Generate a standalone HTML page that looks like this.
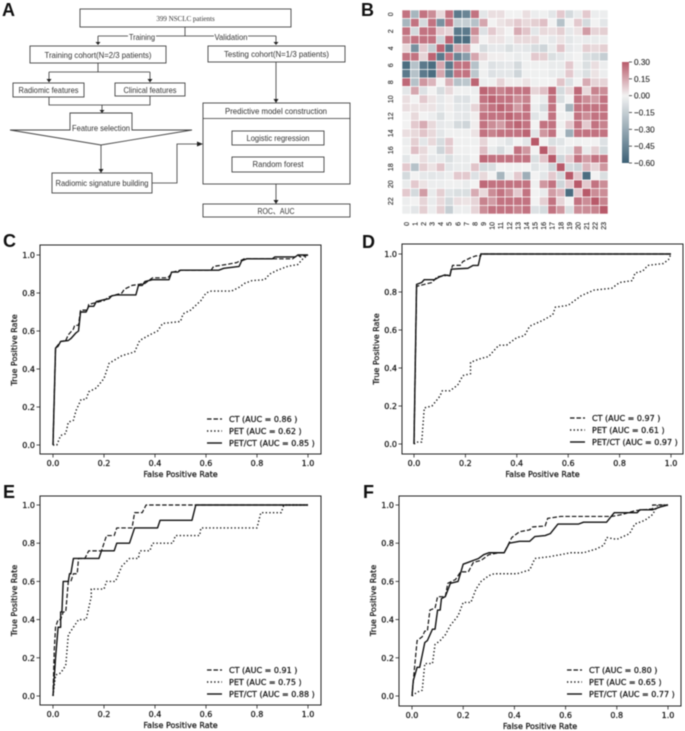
<!DOCTYPE html>
<html lang="en">
<head>
<meta charset="utf-8">
<title>Radiomics figure</title>
<style>
html,body{margin:0;padding:0;background:#fff;width:685px;height:731px;overflow:hidden}
svg{display:block;filter:blur(0.45px)}
text{fill:#222}
.mpl{font-family:"DejaVu Sans","Liberation Sans",sans-serif;font-size:8px;stroke:#111;stroke-width:.22;fill:#111}
.flow{font-family:"Liberation Sans",sans-serif;font-size:8.4px;text-anchor:middle;fill:#333}
.heat{font-family:"Liberation Sans",sans-serif;font-size:7px;fill:#222;stroke:#222;stroke-width:.1}
.letter{font-family:"Liberation Sans",sans-serif;font-size:18px;font-weight:bold;fill:#111}
.box{fill:#fff;stroke:#444;stroke-width:.9}
.conn{fill:none;stroke:#333;stroke-width:.8}
.head{fill:#222;stroke:none}
</style>
</head>
<body>
<svg id="figure" xmlns="http://www.w3.org/2000/svg" width="685" height="731" viewBox="0 0 685 731">
<defs>
<linearGradient id="cbar" x1="0" y1="0" x2="0" y2="1">
<stop offset="0" stop-color="#b85a6a"/>
<stop offset="0.3333" stop-color="#f2f2f2"/>
<stop offset="1" stop-color="#3d6176"/>
</linearGradient>
</defs>
<rect x="0" y="0" width="685" height="731" fill="#fff"/>
<text class="letter" x="2" y="16">A</text>
<text class="letter" x="361" y="16">B</text>
<text class="letter" x="3" y="247">C</text>
<text class="letter" x="362" y="248">D</text>
<text class="letter" x="3" y="498">E</text>
<text class="letter" x="363" y="498">F</text>

<g id="flowchart">
<path class="conn" d="M185 27V36M98 36H276M98 36V43M276 36V43"/>
<path class="conn" d="M98 63V72M49 72H150M49 72V80M150 72V80"/>
<path class="conn" d="M49 97V105H150V96M102 105V111"/>
<path class="conn" d="M101 145V170"/>
<path class="conn" d="M152 183H177V144H200"/>
<path class="conn" d="M276 62V100"/>
<path class="conn" d="M276 184V201"/>
<path class="head" d="M95.5 42H100.5L98 45ZM273.5 42H278.5L276 45ZM46.5 79H51.5L49 82.500ZM147.500 79H152.500L150 82.500ZM99.500 110H104.500L102 113ZM98.500 169H103.500L101 173ZM197 141.500V146.500L203 144ZM273.500 99H278.500L276 103ZM273.500 200H278.500L276 204Z"/>

<rect class="box" x="80" y="9" width="211" height="18"/>
<text x="185.500" y="21" text-anchor="middle" style="font-family:'Liberation Serif',serif;font-size:7px;fill:#333">399 NSCLC patients</text>
<rect x="128" y="31" width="28" height="10" fill="#fff"/>
<text class="flow" x="142" y="40" textLength="26" lengthAdjust="spacingAndGlyphs">Training</text>
<rect x="214" y="31" width="34" height="10" fill="#fff"/>
<text class="flow" x="231" y="40" textLength="33" lengthAdjust="spacingAndGlyphs">Validation</text>

<rect class="box" x="30" y="46" width="136" height="17"/>
<text class="flow" x="98" y="58" textLength="107" lengthAdjust="spacingAndGlyphs">Training cohort(N=2/3 patients)</text>
<rect class="box" x="208" y="46" width="137" height="16"/>
<text class="flow" x="276.500" y="57" textLength="105" lengthAdjust="spacingAndGlyphs">Testing cohort(N=1/3 patients)</text>
<rect class="box" x="13" y="83" width="71" height="14"/>
<text class="flow" x="48.500" y="93" textLength="60" lengthAdjust="spacingAndGlyphs">Radiomic features</text>
<rect class="box" x="115" y="83" width="70" height="13"/>
<text class="flow" x="150" y="93" textLength="53" lengthAdjust="spacingAndGlyphs">Clinical features</text>
<path class="box" d="M70 130V113H132V130H192L101 145L10 130Z"/>
<text class="flow" x="101" y="131" textLength="58" lengthAdjust="spacingAndGlyphs">Feature selection</text>
<rect class="box" x="52" y="173" width="100" height="20"/>
<text class="flow" x="102" y="186" textLength="93" lengthAdjust="spacingAndGlyphs">Radiomic signature building</text>
<rect class="box" x="203" y="103" width="147" height="81"/>
<path class="conn" d="M203 118.500H350"/>
<text class="flow" x="276" y="114" textLength="102" lengthAdjust="spacingAndGlyphs">Predictive model construction</text>
<rect class="box" x="232" y="131" width="92" height="14"/>
<text class="flow" x="278" y="141" textLength="63" lengthAdjust="spacingAndGlyphs">Logistic regression</text>
<rect class="box" x="232" y="157" width="92" height="15"/>
<text class="flow" x="278" y="167" textLength="51" lengthAdjust="spacingAndGlyphs">Random forest</text>
<rect class="box" x="203" y="204" width="147" height="13"/>
<text class="flow" x="276" y="214" textLength="37" lengthAdjust="spacingAndGlyphs">ROC、AUC</text>
</g>
<g id="heatmap"></g>
<g id="rocs"></g>
</svg>

<script>
// ---------- heatmap data ----------
const heatLabels = ["0","1","2","3","4","5","6","7","8","9","10","11","12","13","14","15","16","17","18","19","20","21","22","23"];
const colorbarTicks = [0.30,0.15,0,-0.15,-0.30,-0.45,-0.60];
const heatRow0  = [.25,-.25,.25,.2,.05,.25,-.5,-.45,.25,-.05,.04,.04,0,0,.04,-.02,-.01,-.05,.08,-.1,-.03,.08,-.02,-.02];
const heatRow1  = [-.25,.25,-.1,.25,-.4,.25,-.15,-.15,-.2,.15,0,.03,.05,.08,.05,.07,.1,0,-.2,0,.08,-.1,0,-.05];
const heatRow2  = [.25,-.1,.25,.25,.08,.06,-.5,-.5,.2,-.07,.08,.03,0,.14,.09,-.05,.05,.04,.07,-.04,.03,.17,.06,.07];
const heatRow3  = [.2,.25,.25,.25,-.12,.28,-.55,-.55,.12,0,.03,.03,-.02,.05,.05,.05,-.01,-.04,.03,-.05,-.02,-.03,-.03,-.02];
const heatRow4  = [.05,-.4,.08,-.15,.28,-.5,.15,.15,0,-.09,-.04,-.04,-.08,-.04,-.05,-.09,-.12,-.03,.09,-.04,-.02,.07,.05,.07];
const heatRow5  = [.25,.25,.06,.28,-.5,.25,-.45,-.35,.15,.05,.01,.01,-.01,-.03,-.01,.08,.07,-.08,-.05,-.02,0,-.08,-.1,-.15];
const heatRow6  = [-.55,-.2,-.5,-.55,.15,-.5,.25,.25,-.2,-.01,-.07,-.05,-.04,-.1,-.01,-.01,-.01,-.03,-.03,.08,-.01,-.08,.04,-.02];
const heatRow7  = [-.5,-.2,-.5,-.55,.15,-.45,.25,.25,-.18,-.01,-.07,-.05,-.05,-.12,-.01,-.01,-.01,-.03,-.03,.08,-.03,-.08,.03,-.02];
const heatRow8  = [.27,-.2,.18,.12,0,.13,-.2,-.18,.28,-.02,-.01,.06,.01,.01,.03,-.01,0,0,.09,-.07,0,.14,.06,.06];
const heatRow9  = [-.05,.15,-.07,0,-.09,.05,-.01,-.01,-.02,.28,.25,.22,.25,.25,.25,.06,.1,.27,-.1,.05,.27,.05,.22,.2];
const heatRow10 = [.04,0,.08,.03,-.04,.01,-.07,-.07,-.01,.25,.28,.25,.25,.2,.22,0,-.03,.25,-.08,0,.25,.2,.17,.25];
const heatRow11 = [.04,.03,.03,.03,-.04,.01,-.05,-.05,.06,.22,.25,.28,.25,.17,.25,-.02,-.09,.25,0,-.25,.25,.25,.25,.25];
const heatRow12 = [0,.05,0,-.02,-.08,-.01,-.04,-.05,.01,.25,.25,.25,.28,.25,.25,-.06,-.02,.25,-.01,-.02,.25,.2,.25,.25];
const heatRow13 = [0,.08,.14,.05,-.04,-.03,-.1,-.12,.01,.25,.2,.17,.25,.28,.25,0,.25,.25,-.01,.08,.25,.08,.25,.22];
const heatRow14 = [.04,.05,.09,.05,-.05,-.01,-.01,-.01,.03,.25,.22,.25,.25,.25,.28,-.05,.18,.25,0,-.28,.25,.25,.25,.25];
const heatRow15 = [-.02,.07,-.05,.05,-.09,.08,-.01,-.01,-.01,.06,0,-.02,-.06,0,-.05,.3,0,-.08,-.06,0,-.01,0,0,-.07];
const heatRow16 = [-.01,.1,.05,-.01,-.12,.07,-.01,-.01,0,.1,-.03,-.09,-.02,.25,.18,0,.3,.09,-.03,-.05,.18,-.03,.07,-.1];
const heatRow17 = [-.05,0,.04,-.04,-.03,-.08,-.03,-.03,0,.27,.25,.25,.25,.25,.25,-.08,.09,.3,-.12,.08,.25,.17,.25,.25];
const heatRow18 = [.08,-.2,.07,.03,.09,-.05,-.03,-.03,.09,-.1,-.08,0,-.01,-.01,0,-.06,-.03,-.12,.3,-.1,-.12,.12,.06,.18];
const heatRow19 = [-.1,0,-.04,-.05,-.04,-.02,.08,.08,-.07,.05,0,-.25,-.02,.08,-.28,0,-.05,.08,-.1,.3,.08,-.55,0,-.08];
const heatRow20 = [-.03,.08,.03,-.02,-.02,-.01,-.01,-.03,0,.27,.25,.25,.25,.25,.25,-.01,.18,.25,-.12,.08,.3,.08,.25,.2];
const heatRow21 = [.08,-.1,.17,-.03,.07,-.06,-.08,-.08,.14,.05,.2,.25,.2,.08,.25,0,-.03,.17,.12,-.55,.08,.3,.2,.2];
const heatRow22 = [-.02,0,.06,-.03,.05,-.1,.04,.03,.06,.22,.17,.25,.25,.25,.25,0,.07,.25,.06,0,.25,.2,.3,.22];
const heatRow23 = [-.02,-.05,.07,-.02,.07,-.15,-.02,-.02,.06,.2,.25,.25,.25,.22,.25,-.07,-.1,.25,.18,-.08,.2,.2,.22,.3];
const heatMatrix = [heatRow0,heatRow1,heatRow2,heatRow3,heatRow4,heatRow5,heatRow6,heatRow7,heatRow8,heatRow9,heatRow10,heatRow11,heatRow12,heatRow13,heatRow14,heatRow15,heatRow16,heatRow17,heatRow18,heatRow19,heatRow20,heatRow21,heatRow22,heatRow23];

// ---------- ROC data ----------
const rocTicks = [0,0.2,0.4,0.6,0.8,1];
const seriesNames = ["CT","PET","PET/CT"];
const aucC = ["0.86","0.62","0.85"];
const aucD = ["0.97","0.61","0.97"];
const aucE = ["0.91","0.75","0.88"];
const aucF = ["0.80","0.65","0.77"];

const cCtFpr = [0,.01,.03,.05,.06,.08,.085,.1,.108,.135,.14,.17,.2,.22,.27,.28,.31,.36,.39,.45,.47,.5,.62,.63,.68,.72,.75,.86,.94,.96,.97,1];
const cCtTpr = [0,.51,.545,.55,.58,.61,.63,.63,.71,.71,.74,.75,.76,.78,.8,.82,.84,.85,.88,.88,.91,.92,.92,.94,.95,.96,.98,.98,.98,1,.99,1];
const cPetFpr = [0,.015,.03,.05,.06,.08,.09,.11,.13,.14,.17,.2,.22,.27,.32,.34,.38,.41,.43,.5,.51,.54,.58,.6,.62,.7,.73,.75,.78,.83,.85,.88,.92,.96,.98,1];
const cPetTpr = [0,0,.05,.06,.12,.13,.18,.24,.24,.28,.3,.35,.43,.47,.49,.55,.58,.6,.64,.65,.69,.71,.76,.8,.81,.81,.83,.85,.865,.87,.9,.92,.94,.95,.98,1];
const cBothFpr = [0,.01,.02,.03,.06,.07,.09,.1,.108,.13,.14,.16,.17,.2,.22,.23,.25,.325,.335,.35,.36,.39,.455,.465,.49,.5,.65,.67,.73,.74,.76,.86,.87,.95,.96,1];
const cBothTpr = [0,.51,.52,.545,.55,.56,.59,.6,.7,.7,.73,.73,.755,.765,.77,.785,.79,.79,.84,.84,.86,.87,.87,.91,.91,.92,.92,.93,.94,.97,.98,.98,.99,.99,1,1];

const dCtFpr = [0,.01,.04,.07,.09,.14,.15,.18,.19,.22,.24,.26,.26,1];
const dCtTpr = [0,.83,.84,.85,.88,.89,.94,.94,.96,.98,.99,.99,1,1];
const dPetFpr = [0,.01,.03,.04,.07,.1,.11,.14,.17,.19,.22,.22,.26,.29,.33,.36,.4,.43,.45,.5,.54,.55,.6,.62,.65,.7,.77,.8,.85,.86,.89,.91,.97,.99,1];
const dPetTpr = [0,.01,.01,.19,.2,.25,.28,.28,.31,.36,.37,.43,.45,.46,.52,.52,.56,.57,.62,.65,.68,.72,.73,.75,.78,.81,.82,.85,.86,.9,.91,.94,.95,.97,1];
const dBothFpr = [0,.01,.03,.04,.08,.1,.12,.14,.145,.21,.23,.25,.26,1];
const dBothTpr = [0,.84,.85,.865,.865,.88,.89,.885,.92,.925,.94,.94,1,1];

const eCtFpr = [0,.005,.01,.02,.03,.04,.05,.06,.07,.08,.095,.1,.125,.14,.19,.21,.24,.25,.31,.32,.35,.365,1];
const eCtTpr = [0,.24,.36,.4,.4,.44,.44,.6,.6,.64,.64,.72,.72,.76,.76,.84,.84,.88,.88,.96,.96,1,1];
const ePetFpr = [0,.01,.03,.05,.06,.08,.1,.13,.15,.15,.2,.21,.245,.27,.3,.335,.34,.38,.39,.47,.48,.575,.58,.8,.815,.895,.905,1];
const ePetTpr = [0,.11,.12,.16,.32,.36,.4,.4,.52,.56,.56,.6,.6,.68,.72,.72,.76,.76,.8,.8,.84,.84,.88,.88,.96,.96,1,1];
const eBothFpr = [0,.01,.015,.02,.03,.03,.035,.04,.06,.065,.07,.08,.18,.19,.24,.25,.3,.32,.41,.42,.545,.56,1];
const eBothTpr = [0,.2,.28,.36,.36,.44,.44,.6,.6,.64,.64,.72,.72,.76,.76,.8,.8,.88,.88,.92,.92,1,1];

const fCtFpr = [0,.01,.02,.04,.05,.06,.07,.09,.1,.13,.14,.17,.19,.22,.24,.27,.3,.34,.36,.39,.42,.46,.47,.52,.53,.58,.78,.82,.87,.94,.94,1];
const fCtTpr = [0,.15,.29,.31,.34,.34,.45,.46,.52,.52,.59,.61,.65,.65,.7,.71,.74,.75,.75,.83,.86,.87,.885,.89,.93,.94,.94,.95,.97,.98,1,1];
const fPetFpr = [0,.02,.04,.05,.08,.09,.11,.13,.15,.18,.2,.23,.25,.27,.3,.32,.41,.46,.48,.54,.58,.62,.67,.72,.75,.76,.8,.85,.87,.91,.94,.96,1];
const fPetTpr = [0,.02,.03,.17,.17,.27,.29,.32,.37,.42,.49,.49,.56,.6,.63,.64,.64,.66,.72,.73,.74,.75,.75,.77,.79,.83,.82,.85,.9,.92,.95,1,1];
const fBothFpr = [0,.005,.02,.03,.05,.06,.08,.09,.1,.11,.115,.13,.15,.18,.2,.22,.24,.26,.28,.3,.36,.38,.42,.46,.48,.52,.54,.57,.65,.67,.76,.79,.88,.89,.94,.97,1];
const fBothTpr = [0,.08,.15,.15,.28,.29,.35,.35,.45,.45,.51,.52,.59,.6,.69,.7,.71,.72,.74,.75,.75,.8,.81,.81,.835,.84,.85,.9,.9,.91,.91,.96,.96,.975,.975,.99,1];

// ---------- helpers ----------
const NS = "http://www.w3.org/2000/svg";
function make(tag, parent, attrs, text) {
  const el = document.createElementNS(NS, tag);
  for (const k in attrs) el.setAttribute(k, attrs[k]);
  if (text !== undefined) el.textContent = text;
  parent.appendChild(el);
  return el;
}
function lerp(a, b, t) { return a + (b - a) * t; }
function heatColor(v) {
  const mid = [242,242,242], pos = [184,90,106], neg = [61,97,118];
  const end = v >= 0 ? pos : neg;
  const t = v >= 0 ? Math.min(v / 0.3, 1) : Math.min(-v / 0.6, 1);
  return "rgb(" + mid.map((m, i) => Math.round(lerp(m, end[i], t))).join(",") + ")";
}

// ---------- heatmap ----------
(function () {
  const g = document.getElementById("heatmap");
  const left = 402, top = 10, cw = 206 / heatMatrix[0].length, ch = 204 / heatMatrix.length;
  heatMatrix.forEach(function (row, r) {
    row.forEach(function (v, c) {
      const cell = make("rect", g, {x: left + c * cw, y: top + r * ch, width: cw, height: ch, fill: heatColor(v), stroke: "#fff", "stroke-width": 0.6});
      
      
    });
  });
  heatLabels.forEach(function (lab, i) {
    const tx = left + (i + 0.5) * cw;
    const xl = make("text", g, {class: "heat", x: tx + 2.500, y: 222, "text-anchor": "end", transform: "rotate(-90 " + (tx + 2.500) + " 222)"}, lab);
    
    
    if (i % 2 === 0) {
      const ty = top + (i + 0.5) * ch;
      const yl = make("text", g, {class: "heat", x: 393, y: ty, "text-anchor": "middle", transform: "rotate(-90 393 " + ty + ")"}, lab);
      
      
    }
  });
  const barTop = 62, barH = 101, barMax = colorbarTicks[0], barMin = colorbarTicks[colorbarTicks.length - 1];
  const bar = make("rect", g, {x: 622, y: barTop, width: 7, height: barH, fill: "url(#cbar)"});
  
  
  colorbarTicks.forEach(function (v) {
    const y = barTop + (barMax - v) / (barMax - barMin) * barH;
    const tick = make("line", g, {x1: 629, x2: 632, y1: y, y2: y, stroke: "#333", "stroke-width": 0.8});
    
    
    const s = (v < 0 ? "\u2212" : "") + Math.abs(v).toFixed(2);
    const lab = make("text", g, {class: "heat", x: 634, y: y + 3, style: "font-size:8.2px"}, s);
    
    
  });
})();

// ---------- ROC panels ----------
const panelLayouts = [
  {id: "c", box: [40, 245, 321, 454], x0: 53, x1: 308, y0: 445, y1: 255, auc: aucC, fpr: [cCtFpr, cPetFpr, cBothFpr], tpr: [cCtTpr, cPetTpr, cBothTpr]},
  {id: "d", box: [402, 244, 683, 454], x0: 414, x1: 671, y0: 444, y1: 254, auc: aucD, fpr: [dCtFpr, dPetFpr, dBothFpr], tpr: [dCtTpr, dPetTpr, dBothTpr]},
  {id: "e", box: [40, 496, 321, 705], x0: 53, x1: 308, y0: 696, y1: 505, auc: aucE, fpr: [eCtFpr, ePetFpr, eBothFpr], tpr: [eCtTpr, ePetTpr, eBothTpr]},
  {id: "f", box: [399, 496, 681, 706], x0: 412, x1: 668, y0: 696, y1: 505, auc: aucF, fpr: [fCtFpr, fPetFpr, fBothFpr], tpr: [fCtTpr, fPetTpr, fBothTpr]}
];
const lineStyles = [
  {dash: "4.500 2", width: 1.2},
  {dash: "1.300 2.300", width: 1.4},
  {dash: "none", width: 1.4}
];

panelLayouts.forEach(function (p) {
  const root = document.getElementById("rocs");
  const g = make("g", root, {});
  
  
  const sx = function (v) { return p.x0 + v * (p.x1 - p.x0); };
  const sy = function (v) { return p.y0 + v * (p.y1 - p.y0); };
  const L = p.box[0], T = p.box[1], R = p.box[2], B = p.box[3];

  p.fpr.forEach(function (xs, i) {
    const pts = xs.map(function (x, k) { return sx(x).toFixed(2) + "," + sy(p.tpr[i][k]).toFixed(2); }).join(" ");
    const line = make("polyline", g, {points: pts, fill: "none", stroke: "#111", "stroke-width": lineStyles[i].width, "stroke-dasharray": lineStyles[i].dash, "stroke-linejoin": "round"});
    
    
  });

  const frame = make("rect", g, {x: L, y: T, width: R - L, height: B - T, fill: "none", stroke: "#222", "stroke-width": 1});
  
  

  rocTicks.forEach(function (v) {
    const tx = make("line", g, {x1: sx(v), x2: sx(v), y1: B, y2: B + 3.500, stroke: "#222", "stroke-width": 0.8});
    
    
    const lx = make("text", g, {class: "mpl", x: sx(v), y: B + 12, "text-anchor": "middle"}, v.toFixed(1));
    
    
    const ty = make("line", g, {x1: L - 3.500, x2: L, y1: sy(v), y2: sy(v), stroke: "#222", "stroke-width": 0.8});
    
    
    const ly = make("text", g, {class: "mpl", x: L - 5, y: sy(v) + 3, "text-anchor": "end"}, v.toFixed(1));
    
    
  });

  const xt = make("text", g, {class: "mpl", x: (p.x0 + p.x1) / 2, y: B + 23, "text-anchor": "middle"}, "False Positive Rate");
  
  
  const yx = L - 23, yy = (p.y0 + p.y1) / 2;
  const yt = make("text", g, {class: "mpl", x: yx, y: yy, "text-anchor": "middle", transform: "rotate(-90 " + yx + " " + yy + ")"}, "True Positive Rate");
  
  

  seriesNames.forEach(function (name, i) {
    const y = p.y0 - 26 + i * 12;
    const h = make("line", g, {x1: p.x1 - 101, x2: p.x1 - 86, y1: y, y2: y, stroke: "#111", "stroke-width": lineStyles[i].width, "stroke-dasharray": lineStyles[i].dash});
    
    
    const t = make("text", g, {class: "mpl", x: p.x1 - 79, y: y + 3}, name + " (AUC = " + p.auc[i] + " )");
    
    
  });
});
</script>
</body>
</html>
